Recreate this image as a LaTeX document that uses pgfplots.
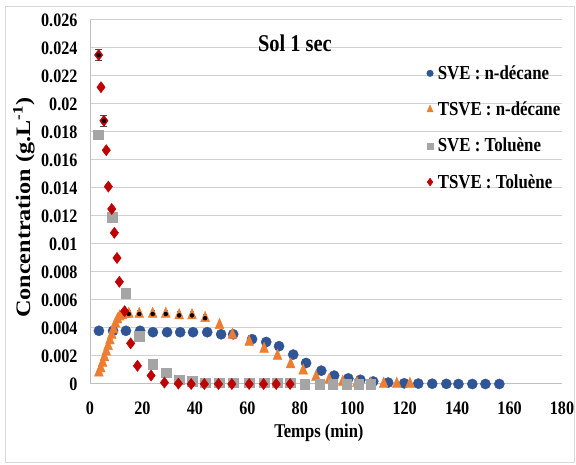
\documentclass[border=0pt]{standalone}
\usepackage{fontspec}
\setmainfont{Liberation Serif}[FakeStretch=0.85]
\newfontfamily\plainserif{Liberation Serif}
\usepackage{pgfplots}
\pgfplotsset{compat=1.18}
\usepackage{pgfplotstable}
\definecolor{cblue}{HTML}{2F5597}
\definecolor{corange}{HTML}{ED7D31}
\definecolor{cgray}{HTML}{A5A5A5}
\definecolor{cred}{HTML}{C00000}

\pgfplotstableread{
t c
3.4 0.0038
8.8 0.0038
13.7 0.0038
19.1 0.0038
24.0 0.0037
29.4 0.0037
34.4 0.0037
39.3 0.0037
44.7 0.0037
50.0 0.00355
54.6 0.00355
61.8 0.0032
67.2 0.0030
72.1 0.0027
77.5 0.0021
82.4 0.0015
88.2 0.00095
93.1 0.0006
98.5 0.0004
103.1 0.0003
108.0 0.00018
113.7 0.0001
119.8 0.00005
125.2 0.00003
130.5 0.00002
135.9 0.00001
140.5 0.0
145.8 0.0
150.8 0.0
156.1 0.0
}\sveDec

\pgfplotstableread{
t c
3.4 0.0008
4.1 0.0011
4.8 0.0015
5.5 0.0019
6.2 0.0023
6.9 0.0027
7.6 0.0031
8.3 0.0035
9.0 0.0039
9.7 0.0043
10.5 0.0046
11.3 0.0048
12.3 0.0049
13.5 0.0050
14.8 0.0050
18.8 0.0050
23.9 0.0050
28.9 0.0050
34.0 0.0049
38.9 0.0049
43.9 0.0047
49.4 0.0042
54.3 0.0035
60.7 0.0030
66.4 0.0025
71.5 0.0020
76.5 0.0014
81.3 0.00095
86.2 0.0005
91.2 0.0003
96.4 0.00015
101.8 0.00005
107.0 0.00002
112.0 0.0
117.0 0.0
122.0 0.0
}\tsveDec

\pgfplotstableread{
t c e
14.8 0.0050 0.0003
18.8 0.0050 0.0003
23.9 0.0050 0.0003
28.9 0.0050 0.0003
34.0 0.0049 0.0003
38.9 0.0049 0.0003
43.9 0.0047 0.0003
}\tsveDecErr

\pgfplotstableread{
t c
3.2 0.0178
8.5 0.0119
13.6 0.0065
18.8 0.0034
23.9 0.0014
29.0 0.0008
34.0 0.0003
38.9 0.0002
43.9 0.0001
49.3 0.0001
54.6 0.0001
60.8 0.0001
66.4 0.0001
71.5 0.0001
76.3 0.0001
81.8 0.0
87.6 0.0
92.6 0.0
97.9 0.0
102.4 0.0
107.1 0.0
}\sveTol

\pgfplotstableread{
t c
3.3 0.0235
4.2 0.0212
5.3 0.0188
6.2 0.0167
7.0 0.0141
8.3 0.0125
9.3 0.0108
10.3 0.0090
11.2 0.0073
13.2 0.0052
15.5 0.0029
18.1 0.0013
23.3 0.0006
28.4 0.0001
33.7 0.00003
38.6 0.0
43.6 0.0
49.0 0.0
54.1 0.0
60.7 0.0
66.2 0.0
71.0 0.0
76.3 0.0
}\tsveTol

\pgfplotstableread{
t c e
3.3 0.0235 0.0004
5.3 0.0188 0.0004
}\tsveTolErr

\begin{document}
\begin{tikzpicture}[x=1bp,y=1bp]
\useasboundingbox (0,0) rectangle (576,465);
\draw[black!15, line width=1bp] (5,2.5) rectangle (574.5,458);
\begin{axis}[
  at={(90bp,81bp)}, anchor=south west,
  scale only axis, width=472bp, height=364bp,
  xmin=0, xmax=180, ymin=0, ymax=0.026,
  xtick={0,20,40,60,80,100,120,140,160,180},
  ytick={0,0.002,0.004,0.006,0.008,0.01,0.012,0.014,0.016,0.018,0.02,0.022,0.024,0.026},
  scaled y ticks=false,
  yticklabel style={/pgf/number format/fixed, /pgf/number format/precision=3, xshift=-9bp},
  /pgf/number format/assume math mode=true,
  tick label style={font=\fontsize{19bp}{22bp}\selectfont\bfseries},
  xticklabel style={yshift=-14bp},
  major tick length=0pt,
  axis x line=bottom, axis y line=left,
  axis line style={-, black!25, line width=1bp},
  ymajorgrids, grid style={black!18, line width=1bp},
  xlabel={Temps (min)},
  ylabel={\scalebox{1}[0.85]{Concentration (g.L\textsuperscript{-1})}},
  label style={font=\fontsize{19.5bp}{22bp}\selectfont\bfseries},
  xlabel style={at={(axis description cs:0.485,0)}, anchor=center, yshift=-49bp},
  ylabel style={at={(axis description cs:-0.140,0.484)}, anchor=center, font=\plainserif\fontsize{24.2bp}{26bp}\selectfont\bfseries},
  legend image code/.code={\draw[#1] plot coordinates {(0bp,0bp)};},
  legend style={at={(axis description cs:0.713,0.875)}, anchor=north west,
    draw=none, fill=none, inner sep=0pt, row sep=21bp, column sep=4.5bp,
    font=\fontsize{19.8bp}{22bp}\selectfont\bfseries,
    nodes={inner sep=0pt}},
  legend cell align=left,
  clip=false,
]
\addlegendimage{only marks, mark=*, mark size=3.3bp, color=cblue}
\addlegendimage{only marks, mark=triangle*, mark size=3.5bp, color=corange, mark options={yscale=1.3}}
\addlegendimage{only marks, mark=square*, mark size=3.1bp, color=cgray}
\addlegendimage{only marks, mark=diamond*, mark size=3.9bp, color=cred}
\legend{SVE : n-décane, TSVE : n-décane, SVE : Toluène, TSVE : Toluène}

\addplot[forget plot, only marks, mark=*, mark size=5.1bp, color=cblue] table[x=t,y=c] {\sveDec};
\addplot[forget plot, only marks, mark=triangle*, mark size=5.1bp, color=corange, mark options={yscale=1.35}] table[x=t,y=c] {\tsveDec};
\addplot[forget plot, only marks, mark=none, draw=none,
  error bars/.cd, y dir=plus, y explicit,
  error bar style={black!55, line width=0.5bp},
  error mark options={rotate=90, mark size=2bp, black!55, line width=0.5bp}]
  table[x=t,y=c,y error=e] {\tsveDecErr};
\addplot[forget plot, only marks, mark=square*, mark size=4.8bp, color=cgray] table[x=t,y=c] {\sveTol};
\addplot[forget plot, only marks, mark=diamond*, mark size=5.6bp, color=cred] table[x=t,y=c] {\tsveTol};
\addplot[forget plot, only marks, mark=none, draw=none,
  error bars/.cd, y dir=both, y explicit,
  error bar style={black!70, line width=0.7bp},
  error mark options={rotate=90, mark size=3.5bp, black!70, line width=0.7bp}]
  table[x=t,y=c,y error=e] {\tsveTolErr};

\node[font=\fontsize{24bp}{28bp}\selectfont\bfseries] at (axis description cs:0.434,0.937) {Sol 1 sec};
\end{axis}
\end{tikzpicture}
\end{document}
